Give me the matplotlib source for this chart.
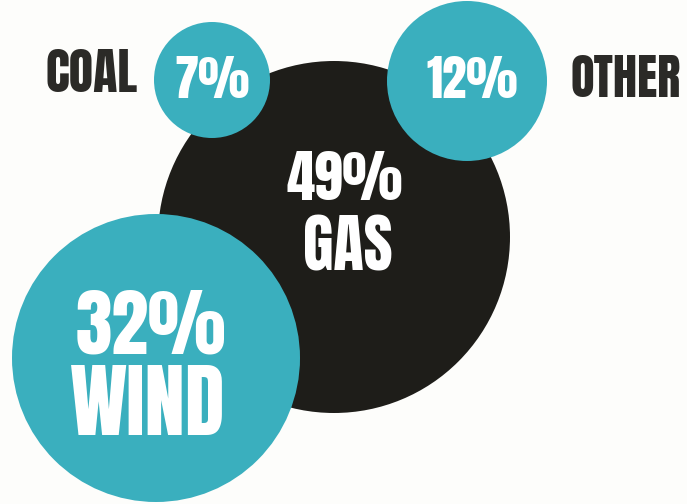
import matplotlib
matplotlib.use("Agg")
import matplotlib.pyplot as plt
from matplotlib.patches import Circle

# data
sources = ["GAS", "WIND", "OTHER", "COAL"]
shares = [49, 32, 12, 7]

# layout (pixel coords, y down)
centers = [(334, 237), (156, 358), (467, 81), (212, 80)]
radii = [176, 144, 80, 58]
fills = ["#1e1d19", "#3aafbe", "#3aafbe", "#3aafbe"]

font = "Anton"
dark = "#2b2a27"

fig = plt.figure(figsize=(6.87, 5.04), dpi=100)
fig.patch.set_facecolor("#fdfdfb")
ax = fig.add_axes([0, 0, 1, 1])
ax.set_xlim(0, 687)
ax.set_ylim(504, 0)
ax.set_aspect("equal")
ax.axis("off")

for (cx, cy), r, c in zip(centers, radii, fills):
    ax.add_patch(Circle((cx, cy), r, facecolor=c, edgecolor="none"))

# big circles: percent over name
ax.text(345, 179, f"{shares[0]}%", color="white", fontsize=41, family=font,
        ha="center", va="center")
ax.text(348, 247, sources[0], color="white", fontsize=45, family=font,
        ha="center", va="center")
ax.text(151, 326, f"{shares[1]}%", color="white", fontsize=53, family=font,
        ha="center", va="center")
ax.text(148, 405, sources[1], color="white", fontsize=58, family=font,
        ha="center", va="center")

# small circles: percent inside, name outside
ax.text(212, 80, f"{shares[3]}%", color="white", fontsize=35, family=font,
        ha="center", va="center")
ax.text(92, 74, sources[3], color=dark, fontsize=36, family=font,
        ha="center", va="center")
ax.text(472, 80, f"{shares[2]}%", color="white", fontsize=35, family=font,
        ha="center", va="center")
ax.text(626, 79, sources[2], color=dark, fontsize=35, family=font,
        ha="center", va="center")

fig.savefig("out.png", dpi=100, facecolor=fig.get_facecolor())
